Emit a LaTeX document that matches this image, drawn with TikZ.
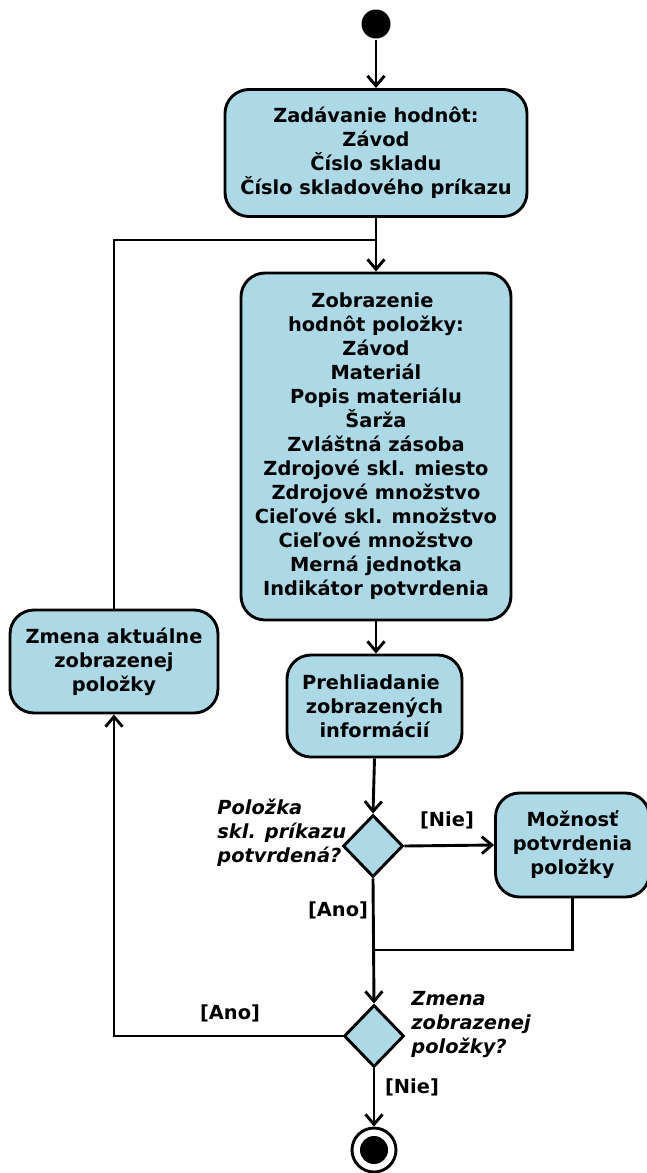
\documentclass[tikz,border=0pt]{standalone}
\usepackage{fontspec}
\setmainfont{DejaVu Sans}
\usetikzlibrary{arrows.meta,shapes.geometric}
\definecolor{boxblue}{HTML}{ADD8E6}
\newcommand{\tsp}{\hspace*{7pt}}
\begin{document}
\begin{tikzpicture}[x=1pt,y=-1pt,
  every path/.style={line width=2.9pt},
  act/.style={draw, fill=boxblue, rounded corners=24pt, align=center, inner sep=0pt, line width=2.9pt,
    font=\fontsize{19.4}{24}\selectfont\bfseries},
  dec/.style={draw, fill=boxblue, diamond, aspect=1, inner sep=0pt, minimum width=60pt, minimum height=62pt, line width=2.9pt},
  lbl/.style={font=\fontsize{19.4}{24}\selectfont\bfseries, inner sep=0pt},
  qlbl/.style={font=\fontsize{19.4}{24}\selectfont\bfseries\itshape, align=left, inner sep=0pt},
  arr/.style={-{Straight Barb[length=10pt,width=17pt,line width=2.9pt]}, line width=2.9pt}
]
\useasboundingbox (0,0) rectangle (647,1173);

\node[circle, fill=black, minimum size=29pt, inner sep=0pt] (start) at (376,24) {};

\node[act, minimum width=302pt, minimum height=127pt] (box1) at (376,153)
  {Zadávanie hodnôt:\\Závod\\Číslo skladu\\Číslo skladového príkazu};

\node[act, minimum width=270pt, minimum height=347pt] (box2) at (376,446.5)
  {Zobrazenie\tsp\\hodnôt položky:\\Závod\\Materiál\\Popis materiálu\\Šarža\\Zvláštná zásoba\\Zdrojové skl. miesto\\Zdrojové množstvo\\Cieľové skl. množstvo\\Cieľové množstvo\\Merná jednotka\\Indikátor potvrdenia};

\node[act, minimum width=208pt, minimum height=103pt] (box3) at (114,661.5)
  {Zmena aktuálne\\zobrazenej\tsp\\položky};

\node[act, minimum width=175pt, minimum height=102pt] (box4) at (374.5,706)
  {Prehliadanie\tsp\\zobrazených\\informácií};

\node[dec] (d1) at (373,846) {};

\node[act, minimum width=154pt, minimum height=104pt] (box5) at (572.5,845)
  {Možnosť\\potvrdenia\\položky};

\node[dec] (d2) at (374,1036) {};

\node[circle, draw, fill=white, minimum size=44pt, inner sep=0pt, line width=2.9pt] (end) at (374,1150) {};
\node[circle, fill=black, minimum size=28pt, inner sep=0pt] (endin) at (end.center) {};

% labels
\node[qlbl, anchor=west] (q1) at (216,833) {Položka\\skl. príkazu\\potvrdená?};
\node[qlbl, anchor=west] (q2) at (410,1025) {Zmena\\zobrazenej\\položky?};
\node[lbl] (nie1) at (447,820) {[Nie]};
\node[lbl] (ano1) at (338,910) {[Ano]};
\node[lbl] (ano2) at (230,1013) {[Ano]};
\node[lbl] (nie2) at (412,1087) {[Nie]};

% connectors
\coordinate (j1) at (376,240);
\coordinate (j2) at (374,950);
\draw[arr] (start) -- (box1);
\draw[arr] (box1.south) -- (box2.north);
\draw (box3.north) |- (j1);
\draw[arr] (box2.south) -- (box2.south |- box4.north);
\draw[arr] (box4.south) -- (d1.north);
\draw[arr] (d1.east) -- (box5.west);
\draw[arr] (d1.south) -- (d2.north);
\draw (box5.south) |- (j2);
\draw[arr] (d2.west) -| (box3.south);
\draw[arr] (d2.south) -- (end.north);
\end{tikzpicture}
\end{document}
